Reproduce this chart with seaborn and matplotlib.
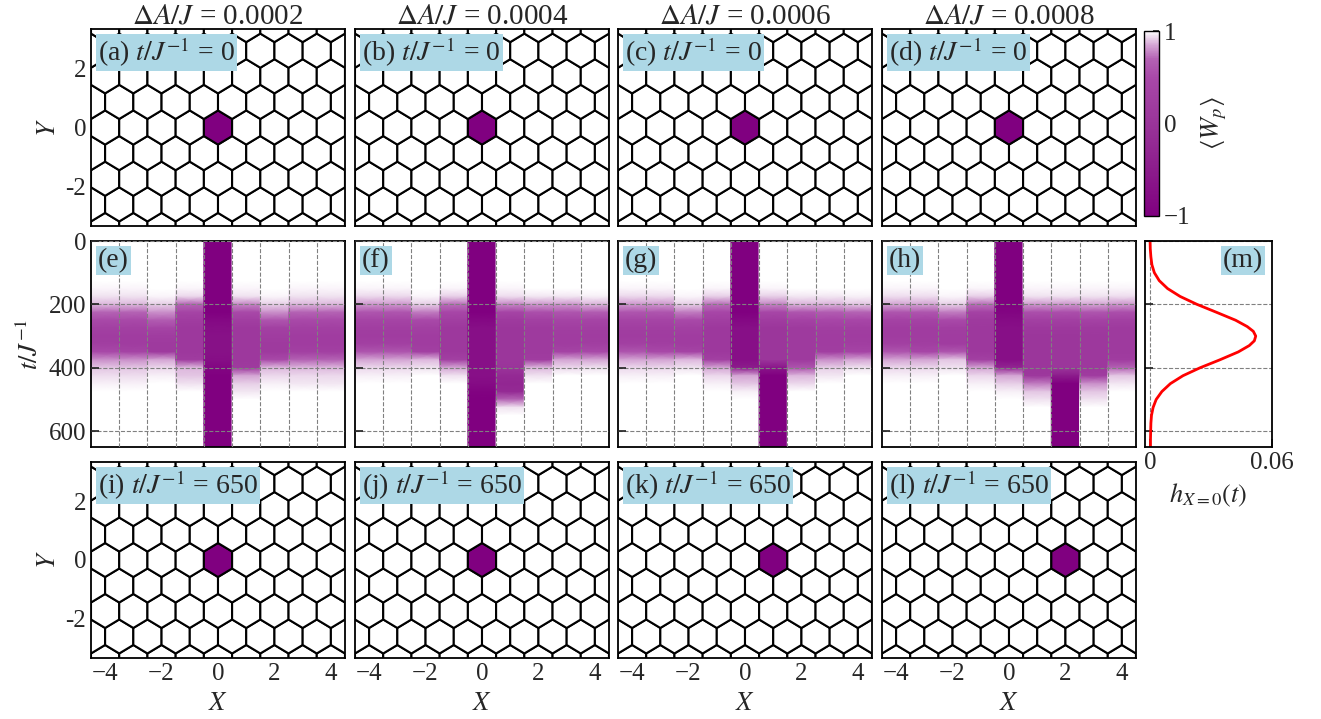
import numpy as np
import matplotlib
matplotlib.use("Agg")
import matplotlib.pyplot as plt
from matplotlib.colors import LinearSegmentedColormap, Normalize
from matplotlib.cm import ScalarMappable
from matplotlib.patches import RegularPolygon
from matplotlib.collections import PatchCollection
import seaborn as sns
import pandas as pd

# ---------------- data ----------------
amps = ["0.0002", "0.0004", "0.0006", "0.0008"]
top_tags = ["(a)", "(b)", "(c)", "(d)"]
mid_tags = ["(e)", "(f)", "(g)", "(h)"]
bot_tags = ["(i)", "(j)", "(k)", "(l)"]
flux_x_start = [0, 0, 0, 0]      # position of the purple plaquette at t=0
flux_x_end = [0, 0, 1, 2]        # position at t=650
t_final = 650

x_cols = [-4, -3, -2, -1, 0, 1, 2, 3, 4]
t_nodes = [0, 25, 50, 75, 100, 125, 150, 175, 200, 225, 250, 275, 300, 325,
           350, 375, 400, 425, 450, 475, 500, 525, 550, 575, 600, 625, 650]

# <W_p>(X, t) for each panel, one list per column X=-4..4, at t_nodes
wp_e = [
    [1]*6 + [.98, .95, .88, .7, .5, .3, .2, .25, .5, .8, .9, .94, .97] + [1]*8,
    [1]*6 + [.98, .95, .88, .7, .5, .3, .2, .2, .4, .8, .9, .94, .97] + [1]*8,
    [1]*7 + [.98, .92, .8, .65, .4, .2, .15, .15, .85, .93, .97, 1] + [1]*8,
    [1]*6 + [.98, .93, .7, .4, .2, .1, .1, .1, .1, .2, .88, .9, .95] + [1]*8,
    [-1]*10 + [-.85, -.75, -.7, -.7, -.7, -.75, -.9] + [-1]*10,
    [1]*6 + [.98, .95, .78, .5, .25, .1, .1, .1, .1, .1, .15, .85, .92, .96, 1] + [1]*6,
    [1]*7 + [.98, .92, .8, .6, .3, .2, .15, .15, .5, .88, .93, .97] + [1]*8,
    [1]*6 + [.98, .95, .88, .7, .5, .3, .2, .2, .3, .7, .88, .93, .96] + [1]*8,
    [1]*6 + [.98, .95, .88, .7, .5, .3, .2, .2, .3, .7, .88, .93, .96] + [1]*8,
]
wp_f = [
    [1]*6 + [.98, .93, .82, .6, .4, .25, .2, .3, .6, .85, .93, .97, 1] + [1]*8,
    [1]*6 + [.98, .93, .82, .6, .4, .25, .2, .3, .6, .85, .93, .97, 1] + [1]*8,
    [1]*7 + [.98, .92, .75, .5, .3, .2, .2, .3, .88, .95, 1, 1] + [1]*8,
    [1]*6 + [.98, .92, .72, .45, .25, .1, .1, .1, .1, .3, .85, .95, 1] + [1]*8,
    [-1]*10 + [-.85, -.72, -.72, -.72, -.72, -.72, -.72, -.72, -.8, -.95] + [-1]*7,
    [1]*6 + [.98, .94, .78, .4, .15, .05, .05, .05, .05, .05, 0, -.2, -.3, -.2, .7, .95] + [1]*5,
    [1]*7 + [.96, .82, .55, .3, .15, .15, .15, .15, .2, .88, .95, 1] + [1]*8,
    [1]*7 + [.96, .82, .6, .4, .25, .2, .2, .4, .85, .93, 1, 1] + [1]*8,
    [1]*7 + [.97, .87, .65, .4, .25, .2, .25, .5, .85, .95, 1, 1] + [1]*8,
]
wp_g = [
    [1]*6 + [.98, .93, .82, .6, .4, .25, .2, .3, .6, .85, .93, .97, 1] + [1]*8,
    [1]*6 + [.98, .93, .82, .6, .4, .25, .2, .25, .5, .85, .93, .97, 1] + [1]*8,
    [1]*7 + [.98, .92, .75, .5, .3, .2, .2, .4, .88, .95, 1, 1] + [1]*8,
    [1]*6 + [.98, .92, .72, .45, .25, .1, .1, .1, .1, .3, .85, .93, .97] + [1]*8,
    [-1]*10 + [-.85, -.72, -.72, -.72, -.72, -.72, -.5, .85, .9, .97] + [1]*7,
    [1]*6 + [.98, .92, .77, .45, .2, .05, .05, .05, .05, .05, -.6] + [-1]*10,
    [1]*7 + [.96, .87, .6, .35, .15, .15, .15, .15, .15, .6, .88, .93, 1] + [1]*7,
    [1]*7 + [.96, .87, .65, .45, .25, .2, .2, .25, .8, .92, .96, 1] + [1]*8,
    [1]*7 + [.97, .9, .7, .45, .25, .2, .25, .4, .85, .95, 1, 1] + [1]*8,
]
wp_h = [
    [1]*6 + [.98, .94, .85, .6, .35, .2, .2, .3, .6, .85, .93, .97, 1] + [1]*8,
    [1]*6 + [.98, .94, .85, .6, .35, .2, .2, .25, .45, .85, .93, .97, 1] + [1]*8,
    [1]*7 + [.98, .92, .75, .5, .25, .2, .2, .6, .9, .95, 1, 1] + [1]*8,
    [1]*6 + [.98, .92, .72, .35, .15, .1, .1, .1, .1, .3, .85, .93, .97] + [1]*8,
    [-1]*9 + [-.9, -.8, -.72, -.72, -.72, -.72, -.72, -.3, .85, .92, .97] + [1]*7,
    [1]*6 + [.98, .95, .82, .55, .3, .1, .05, .05, .05, .05, .05, .1, .75, .9, .95, 1] + [1]*5,
    [1]*6 + [.98, .95, .82, .55, .3, .1, .05, .05, .05, .05, .05, -.5, -1] + [-1]*8,
    [1]*6 + [.98, .95, .85, .6, .35, .15, .1, .1, .1, .1, .1, .2, .8, .9, .95, 1] + [1]*5,
    [1]*6 + [.98, .94, .82, .55, .3, .15, .15, .15, .15, .2, .7, .9, .96, 1] + [1]*7,
]
wp_panels = [wp_e, wp_f, wp_g, wp_h]

# (m) h_{X=0}(t)
h_t = [0, 25, 50, 75, 100, 125, 150, 175, 200, 225, 250, 270, 285, 300, 315,
       330, 350, 375, 400, 425, 450, 475, 500, 525, 550, 575, 600, 625, 650]
h_val = [0.0, 0.0001, 0.0004, 0.0009, 0.0021, 0.0045, 0.0086, 0.0148, 0.0231,
         0.0327, 0.0421, 0.0478, 0.0508, 0.0520, 0.0513, 0.0488, 0.0434, 0.0343,
         0.0246, 0.0162, 0.0100, 0.0058, 0.0030, 0.0015, 0.0007, 0.0004, 0.0003,
         0.0002, 0.0002]

# ---------------- style ----------------
sns.set_theme(style="ticks")
plt.rcParams["font.family"] = ["Liberation Serif", "DejaVu Serif"]
plt.rcParams["mathtext.fontset"] = "stix"
plt.rcParams["font.size"] = 19
plt.rcParams["axes.linewidth"] = 1.3
plt.rcParams["xtick.direction"] = "in"
plt.rcParams["ytick.direction"] = "in"
plt.rcParams["xtick.labelsize"] = 18
plt.rcParams["ytick.labelsize"] = 18
plt.rcParams["axes.labelsize"] = 19
plt.rcParams["axes.edgecolor"] = "black"

cmap = LinearSegmentedColormap.from_list(
    "wp", [(0.0, "#800080"), (0.25, "#8c1c8c"), (0.5, "#9a349a"),
           (0.75, "#a848a8"), (0.85, "#b462b4"), (0.925, "#d4a4d4"),
           (0.975, "#efe0ef"), (1.0, "#ffffff")])
norm = Normalize(-1, 1)
purple = cmap(0.0)
box = dict(facecolor="lightblue", edgecolor="none", pad=1.5)

W, H = 1321, 719
fig = plt.figure(figsize=(W / 100, H / 100), dpi=100)


def rect(x0, y0, x1, y1):
    return [x0 / W, 1 - y1 / H, (x1 - x0) / W, (y1 - y0) / H]


col_x = [(91, 345), (355, 609), (618, 872), (882, 1136)]
row_top, row_mid, row_bot = (29, 226), (241, 447), (462, 658)

s3 = np.sqrt(3)
centers = [(i + 0.5 * (j % 2), j * s3 / 2) for j in range(-5, 6) for i in range(-6, 7)]


def honeycomb(ax, xflux, tag):
    patches, fcs = [], []
    for cx, cy in centers:
        patches.append(RegularPolygon((cx, cy), 6, radius=1 / s3, orientation=0))
        fcs.append(purple if (abs(cx - xflux) < 1e-6 and abs(cy) < 1e-6) else "white")
    pc = PatchCollection(patches, facecolors=fcs, edgecolors="black", linewidths=1.5)
    ax.add_collection(pc)
    ax.set_xlim(-4.5, 4.5)
    ax.set_ylim(-3.33, 3.33)
    ax.set_yticks([-2, 0, 2])
    ax.set_yticklabels(["-2", "0", "2"])
    ax.set_xticks([-4, -2, 0, 2, 4])
    ax.text(0.028, 0.965, tag, transform=ax.transAxes, ha="left", va="top",
            bbox=box, zorder=5, fontsize=20)


for k in range(4):
    x0, x1 = col_x[k]
    # top row
    ax = fig.add_axes(rect(x0, row_top[0], x1, row_top[1]))
    honeycomb(ax, flux_x_start[k], top_tags[k] + r" $t/J^{-1}$ = 0")
    ax.set_title(r"$\Delta A/J$ = " + amps[k], fontsize=21, pad=4)
    ax.set_xticklabels([])
    if k == 0:
        ax.set_ylabel("$Y$")
    else:
        ax.set_yticklabels([])

    # middle row: heat map of <W_p>(X, t)
    ax = fig.add_axes(rect(x0, row_mid[0], x1, row_mid[1]))
    for xc, col in zip(x_cols, wp_panels[k]):
        tt = np.array(t_nodes, dtype=float)
        Xg = np.column_stack([np.full_like(tt, xc - 0.5), np.full_like(tt, xc + 0.5)])
        Yg = np.column_stack([tt, tt])
        Cg = np.column_stack([col, col])
        ax.pcolormesh(Xg, Yg, Cg, shading="gouraud", cmap=cmap, norm=norm,
                      antialiased=False, zorder=1)
    ax.set_xlim(-4.5, 4.5)
    ax.set_ylim(t_final, 0)
    ax.set_xticks(np.array(x_cols[:-1]) + 0.5)
    ax.set_xticklabels([])
    ax.set_yticks([0, 200, 400, 600])
    ax.set_axisbelow(False)
    ax.grid(True, ls="--", color="gray", lw=0.8)
    ax.tick_params(axis="x", length=0)
    ax.text(0.028, 0.965, mid_tags[k], transform=ax.transAxes, ha="left", va="top",
            bbox=box, zorder=5, fontsize=20)
    if k == 0:
        ax.set_ylabel("$t/J^{-1}$")
    else:
        ax.set_yticklabels([])

    # bottom row
    ax = fig.add_axes(rect(x0, row_bot[0], x1, row_bot[1]))
    honeycomb(ax, flux_x_end[k], bot_tags[k] + r" $t/J^{-1}$ = " + str(t_final))
    ax.set_xlabel("$X$", labelpad=6)
    if k == 0:
        ax.set_ylabel("$Y$")
    else:
        ax.set_yticklabels([])

# colour bar
cax = fig.add_axes(rect(1144, 31, 1159, 216))
cb = fig.colorbar(ScalarMappable(norm=norm, cmap=cmap), cax=cax, ticks=[-1, 0, 1])
cb.set_label(r"$\langle W_p\rangle$", labelpad=6)
cb.outline.set_linewidth(1.0)
cax.tick_params(direction="in", length=4)

# (m) h_{X=0}(t)
axm = fig.add_axes(rect(1145, 241, 1272, 447))
dfm = pd.DataFrame({"t": h_t, "h": h_val})
sns.lineplot(data=dfm, x="h", y="t", orient="y", color="red", lw=2, ax=axm)
axm.set_xlim(-0.0025, 0.06)
axm.set_ylim(t_final, 0)
axm.set_xticks([0, 0.06])
axm.set_xticklabels(["0", "0.06"])
axm.set_yticks([0, 200, 400, 600])
axm.set_yticklabels([])
axm.set_ylabel("")
axm.set_xlabel("$h_{X=0}(t)$", labelpad=6)
axm.grid(True, ls="--", color="gray", lw=0.8)
axm.text(0.93, 0.965, "(m)", transform=axm.transAxes, ha="right", va="top",
         bbox=box, zorder=5, fontsize=20)

fig.savefig("out.png", dpi=100)
